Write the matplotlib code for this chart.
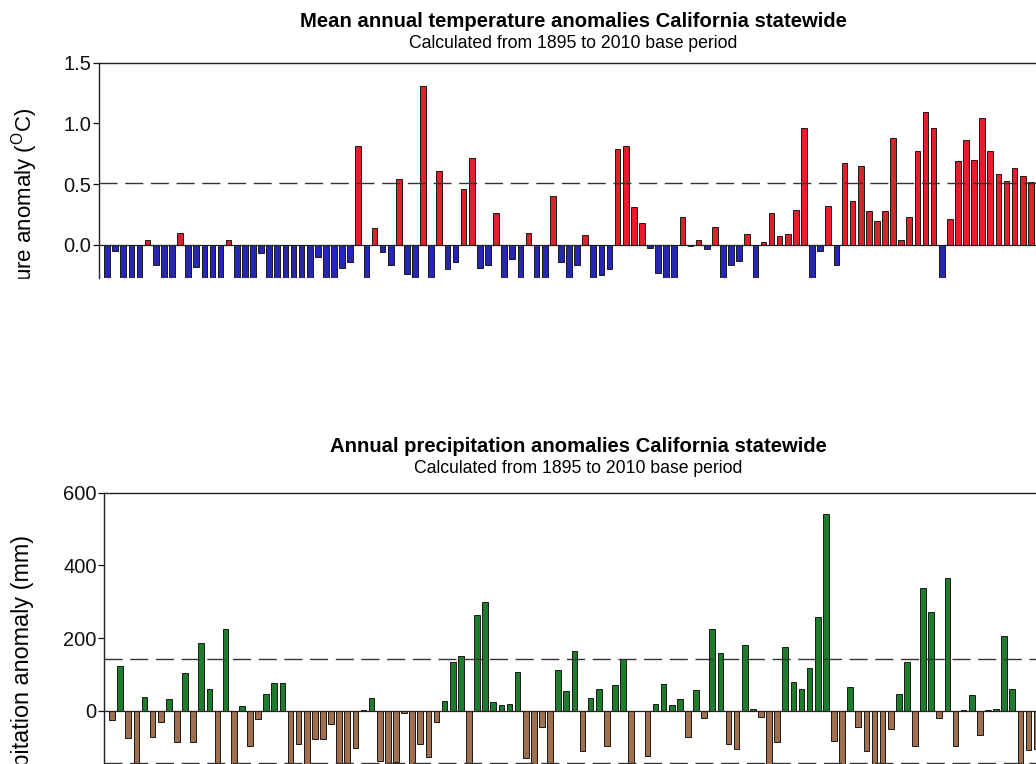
import matplotlib
matplotlib.use('Agg')
import matplotlib.pyplot as plt
from matplotlib.patches import Rectangle
import numpy as np

plt.rcParams['font.family'] = ['Liberation Sans', 'DejaVu Sans']

years = list(range(1895, 2010))

# annual temperature anomaly (deg C); bars below about -0.27 are cut off in the picture
temp = [-0.4, -0.05, -0.4, -0.4, -0.4, 0.04, -0.165, -0.4, -0.4, 0.093,
        -0.4, -0.18, -0.4, -0.4, -0.4, 0.04, -0.4, -0.4, -0.4, -0.07,
        -0.4, -0.4, -0.4, -0.4, -0.4, -0.4, -0.1, -0.4, -0.4, -0.19,
        -0.14, 0.81, -0.4, 0.137, -0.06, -0.17, 0.54, -0.24, -0.4, 1.31,
        -0.4, 0.61, -0.2, -0.145, 0.46, 0.716, -0.19, -0.17, 0.26, -0.4,
        -0.12, -0.4, 0.096, -0.4, -0.4, 0.40, -0.14, -0.4, -0.165, 0.082,
        -0.4, -0.25, -0.2, 0.787, 0.81, 0.31, 0.18, -0.03, -0.23, -0.4,
        -0.4, 0.23, -0.01, 0.04, -0.035, 0.15, -0.4, -0.17, -0.13, 0.088,
        -0.4, 0.022, 0.26, 0.07, 0.088, 0.29, 0.963, -0.4, -0.055, 0.32,
        -0.17, 0.675, 0.36, 0.65, 0.277, 0.197, 0.28, 0.883, 0.036, 0.228,
        0.776, 1.09, 0.963, -0.4, 0.214, 0.694, 0.861, 0.70, 1.045, 0.77,
        0.587, 0.524, 0.63, 0.568, 0.513]

# annual precipitation anomaly (mm)
precip = [-25, 124, -75, -200, 39, -71, -29, 33, -86, 104,
          -86, 186, 61, -200, 225, -200, 15, -95, -22, 47,
          76, 76, -200, -92, -200, -77, -77, -36, -200, -200,
          -103, 3, 37, -137, -200, -139, -6, -200, -91, -127,
          -31, 27, 136, 151, -200, 264, 300, 25, 16, 18,
          108, -130, -200, -45, -200, 112, 55, 164, -110, 37,
          60, -96, 72, 144, -200, 0, -124, 18, 74, 17,
          32, -71, 59, -20, 226, 160, -92, -105, 181, 6,
          -16, -200, -86, 177, 81, 61, 119, 257, 542, -82,
          -200, 67, -43, -109, -200, -200, -50, 48, 134, -96,
          339, 271, -18, 365, -96, 4, 43, -66, 3, 6,
          205, 60, -200, -107, -105]

temp_sd = 0.51
precip_sd = 143.5

W, H = 1036, 764
fig = plt.figure(figsize=(W / 100, H / 100), dpi=100)

def px_axes(left, top, right, bottom):
    return fig.add_axes([left / W, 1 - bottom / H, (right - left) / W, (bottom - top) / H])

def style(ax, ticks, fmt):
    for s in ['right', 'bottom']:
        ax.spines[s].set_visible(False)
    for s in ['top', 'left']:
        ax.spines[s].set_linewidth(1.0)
        ax.spines[s].set_color('#222222')
    ax.set_xticks([])
    ax.set_yticks(ticks)
    ax.set_yticklabels([fmt.format(t) for t in ticks])
    ax.tick_params(axis='y', length=4.2, width=0.9, pad=1.2, labelsize=14.5, colors='#111111')

# temperature panel
ax1 = px_axes(99, 62.7, 99 + 117 * 8.103, 278)
t = np.array(temp)
ax1.bar(years, t, width=0.7, color=np.where(t >= 0, '#e0202a', '#2626b4'),
        edgecolor='#1a1a1a', linewidth=0.7, zorder=2)
ax1.axhline(0, color='#222222', lw=0.9, zorder=3)
ax1.axhline(temp_sd, color='#333333', lw=1.0, dashes=(13, 5.5), zorder=4)
ax1.axhline(-temp_sd, color='#333333', lw=1.0, dashes=(13, 5.5), zorder=4)
ax1.set_xlim(1894, 2011)
ax1.set_ylim(-0.274, 1.5)
style(ax1, [0.0, 0.5, 1.0, 1.5], '{:.1f}')
ax1.annotate('Mean annual temperature anomalies California statewide', (0.5, 1),
             xycoords='axes fraction', xytext=(0, 29.5), textcoords='offset points',
             ha='center', va='center', fontsize=14.6, fontweight='bold')
ax1.annotate('Calculated from 1895 to 2010 base period', (0.5, 1),
             xycoords='axes fraction', xytext=(0, 13.5), textcoords='offset points',
             ha='center', va='center', fontsize=12.7)
fig.text(25 / W, 1 - 108 / H, r'Temperature anomaly ($\mathregular{^O}$C)', rotation=90,
         ha='center', va='top', fontsize=16)

# blank strip under the temperature panel
fig.add_artist(Rectangle((0, 1 - 430 / H), 96 / W, (430 - 278.5) / H,
                         transform=fig.transFigure, color='white', zorder=10))

# precipitation panel
ax2 = px_axes(104, 492.7, 104 + 117 * 8.11, 764.1)
p = np.array(precip)
ax2.bar(years, p, width=0.7, color=np.where(p >= 0, '#1e7d2a', '#a0704e'),
        edgecolor='#1a1a1a', linewidth=0.7, zorder=2)
ax2.axhline(0, color='#222222', lw=0.9, zorder=3)
ax2.axhline(precip_sd, color='#333333', lw=1.0, dashes=(13, 5.5), zorder=4)
ax2.axhline(-precip_sd, color='#333333', lw=1.0, dashes=(13, 5.5), zorder=4)
ax2.set_xlim(1894, 2011)
ax2.set_ylim(-146, 600)
style(ax2, [0, 200, 400, 600], '{:d}')
ax2.annotate('Annual precipitation anomalies California statewide', (0.5, 1),
             xycoords='axes fraction', xytext=(0, 33.5), textcoords='offset points',
             ha='center', va='center', fontsize=14.6, fontweight='bold')
ax2.annotate('Calculated from 1895 to 2010 base period', (0.5, 1),
             xycoords='axes fraction', xytext=(0, 17.5), textcoords='offset points',
             ha='center', va='center', fontsize=12.7)
fig.text(23 / W, 1 - 535 / H, 'Precipitation anomaly (mm)', rotation=90,
         ha='center', va='top', fontsize=16.8)

fig.savefig('out.png', dpi=100)
